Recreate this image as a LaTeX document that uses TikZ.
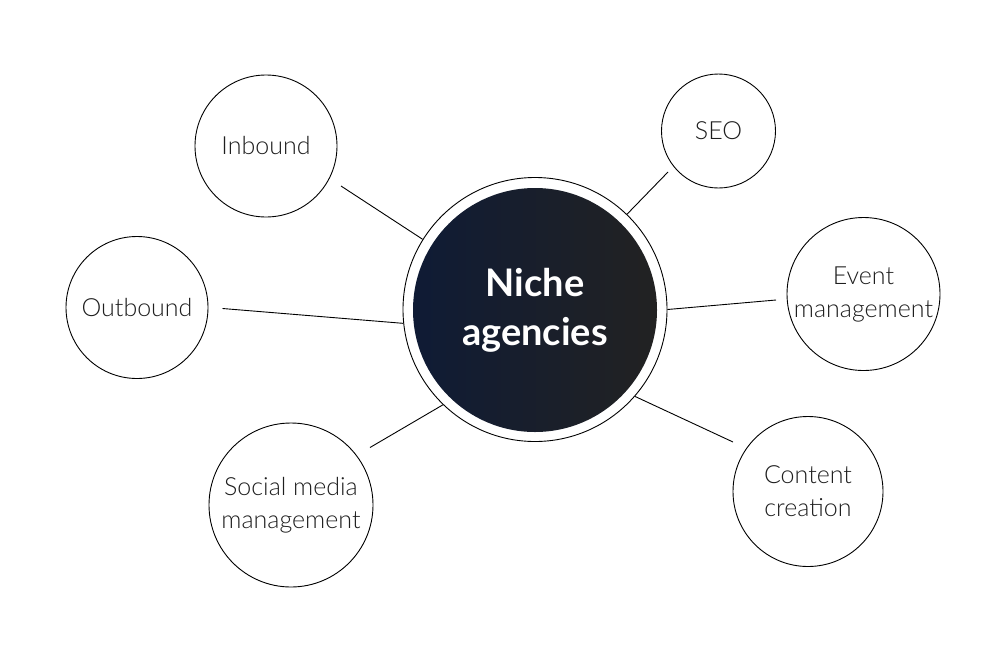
\documentclass[tikz,border=0pt]{standalone}
\usepackage{fontspec}
\setmainfont{Lato}
\newfontfamily\lightfont{Lato Light}
\definecolor{navy}{HTML}{0F1B35}
\definecolor{darkr}{HTML}{222222}
\definecolor{txt}{HTML}{1E1E1E}
\begin{document}
\begin{tikzpicture}[x=1pt,y=-1pt,
  sat/.style={circle, draw=black, line width=0.9pt, inner sep=0pt, align=center, text=txt,
    font=\lightfont\fontsize{25}{33}\selectfont},
  link/.style={draw=black, line width=0.9pt}]
\useasboundingbox (0,0) rectangle (996,662);
% centre
\node[circle, draw=black, line width=0.9pt, minimum size=264pt, inner sep=0pt] (ring) at (535,309.5) {};
\shade[left color=navy, right color=darkr] (535,310) circle[radius=122pt];
\node[font=\bfseries\fontsize{38}{49}\selectfont, text=white, align=center] (core) at (535,310) {Niche\\agencies};
% satellites
\node[sat, minimum size=142pt] (inb) at (266,146) {Inbound};
\node[sat, minimum size=114pt] (seo) at (718.5,131) {SEO};
\node[sat, minimum size=142pt] (outb) at (137,307.5) {Outbound};
\node[sat, minimum size=153pt] (evt) at (863.5,294) {Event\\management};
\node[sat, minimum size=164pt] (soc) at (291,505) {Social media\\management};
\node[sat, minimum size=150pt] (cnt) at (808,491.5) {Content\\creation};
% free ends
\coordinate (inbE) at (341,186);
\coordinate (seoE) at (668,172);
\coordinate (outbE) at (222.5,308.5);
\coordinate (evtE) at (776,300);
\coordinate (socE) at (370,447.5);
\coordinate (cntE) at (733,442);
% connectors
\draw[link] (ring.148.4) -- (inbE);
\draw[link] (ring.46.5) -- (seoE);
\draw[link] (ring.186.9) -- (outbE);
\draw[link] (ring.0) -- (evtE);
\draw[link] (ring.226.5) -- (socE);
\draw[link] (ring.319.3) -- (cntE);
\end{tikzpicture}
\end{document}
